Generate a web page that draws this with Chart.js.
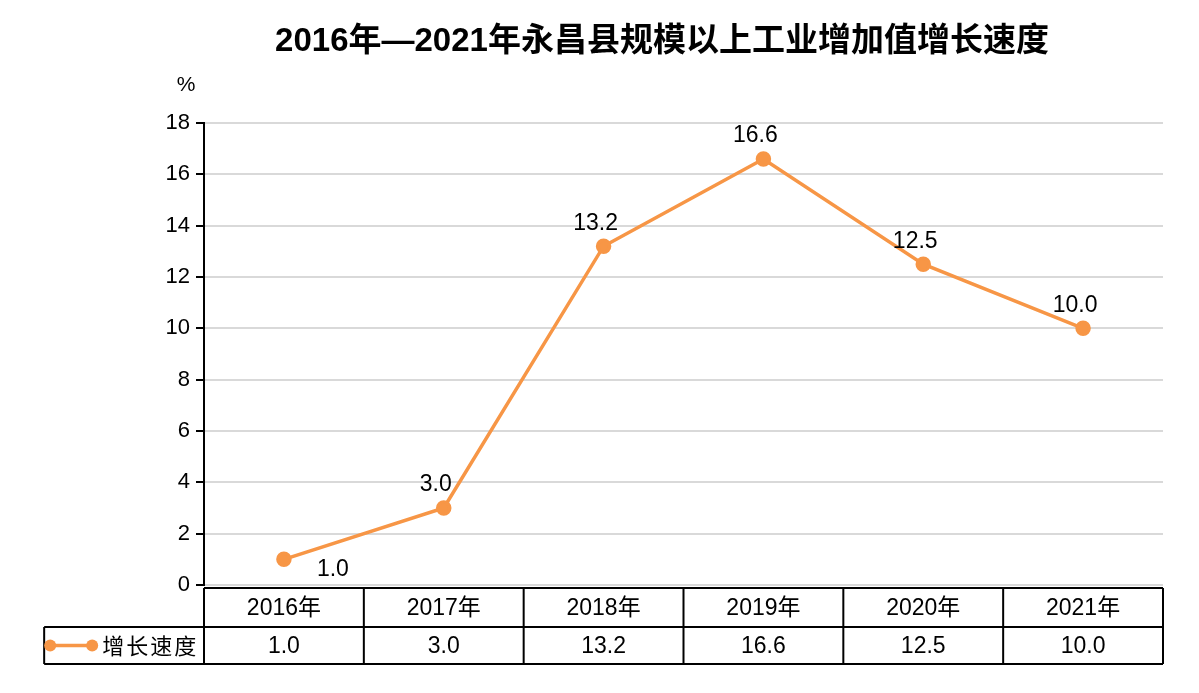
<!DOCTYPE html>
<html>
<head>
<meta charset="utf-8">
<script src="https://cdn.jsdelivr.net/npm/chart.js@4/dist/chart.umd.min.js"></script>
<style>
  html, body { margin: 0; padding: 0; background: #fff; }
  #wrap { width: 1199px; height: 693px; }
</style>
</head>
<body>
<div id="wrap"><canvas id="growth-chart" width="1199" height="693"></canvas></div>
<script>
// data
const years = ['2016年', '2017年', '2018年', '2019年', '2020年', '2021年']
const growthRate = [1.0, 3.0, 13.2, 16.6, 12.5, 10.0]
const seriesName = '增长速度'
const chartTitle = '2016年—2021年永昌县规模以上工业增加值增长速度'
const yTicks = [0, 2, 4, 6, 8, 10, 12, 14, 16, 18]

const orange = '#F79646'
const fontFamily = '"Liberation Sans", Arial, "Noto Sans CJK SC", sans-serif'

// title, unit label, point labels and the data table underneath
const extrasPlugin = {
  id: 'extras',
  afterDatasetsDraw(chart) {
    const ctx = chart.ctx
    const area = chart.chartArea
    const xScale = chart.scales.x
    const meta = chart.getDatasetMeta(0)

    ctx.save()
    ctx.fillStyle = '#000'
    ctx.textAlign = 'center'
    ctx.textBaseline = 'middle'

    // title
    ctx.font = 'bold 33px "Liberation Sans", Arial, "Noto Sans CJK SC", sans-serif'
    ctx.fillText(chartTitle, 662, 42)

    // unit
    ctx.font = '21px ' + fontFamily
    ctx.fillText('%', 186, 85)

    // value labels next to points
    ctx.font = '23px ' + fontFamily
    meta.data.forEach((pt, i) => {
      const txt = growthRate[i].toFixed(1)
      if (i === 0) ctx.fillText(txt, pt.x + 49, pt.y + 10)
      else ctx.fillText(txt, pt.x - 8, pt.y - 23)
    })

    // table
    const colW = xScale.getPixelForValue(1) - xScale.getPixelForValue(0)
    const top = area.bottom + 3
    const mid = top + 39
    const bot = mid + 37
    const left = area.left
    const right = area.right

    ctx.strokeStyle = '#000'
    ctx.lineWidth = 2
    ctx.beginPath()
    ctx.moveTo(left, top); ctx.lineTo(right, top)
    ctx.moveTo(left - colW, mid); ctx.lineTo(right, mid)
    ctx.moveTo(left - colW, bot); ctx.lineTo(right, bot)
    ctx.moveTo(left - colW, mid); ctx.lineTo(left - colW, bot)
    ctx.moveTo(left, top); ctx.lineTo(left, bot)
    years.forEach((y, i) => {
      const xr = xScale.getPixelForValue(i) + colW / 2
      ctx.moveTo(xr, top); ctx.lineTo(xr, bot)
    })
    ctx.stroke()

    ctx.font = '23px ' + fontFamily
    years.forEach((y, i) => {
      const cx = xScale.getPixelForValue(i)
      ctx.fillText(y, cx, (top + mid) / 2 + 1)
      ctx.fillText(growthRate[i].toFixed(1), cx, (mid + bot) / 2 + 1)
    })

    // legend inside the left cell
    const ly = (mid + bot) / 2
    const lx0 = left - colW + 6
    const lx1 = lx0 + 42
    ctx.strokeStyle = orange
    ctx.lineWidth = 3.5
    ctx.beginPath()
    ctx.moveTo(lx0, ly); ctx.lineTo(lx1, ly)
    ctx.stroke()
    ctx.fillStyle = orange
    ;[lx0, lx1].forEach(px => {
      ctx.beginPath()
      ctx.arc(px, ly, 6, 0, Math.PI * 2)
      ctx.fill()
    })
    ctx.fillStyle = '#000'
    ctx.textAlign = 'left'
    ctx.font = '22px "Noto Sans CJK SC", sans-serif'
    ctx.letterSpacing = '2px'
    ctx.fillText(seriesName, lx1 + 10, ly)

    ctx.restore()
  }
}

const ctx = document.getElementById('growth-chart').getContext('2d')

const growthChart = new Chart(ctx, {
  type: 'line',
  data: {
    labels: years,
    datasets: [{
      label: seriesName,
      data: growthRate,
      borderColor: orange,
      backgroundColor: orange,
      borderWidth: 3.5,
      pointRadius: 6,
      pointHoverRadius: 6,
      tension: 0
    }]
  },
  options: {
    responsive: false,
    animation: false,
    layout: {
      padding: { top: 123, right: 36, bottom: 108, left: 0 }
    },
    plugins: {
      legend: { display: false },
      title: { display: false },
      tooltip: { enabled: false }
    },
    scales: {
      x: {
        display: false,
        offset: true
      },
      y: {
        min: 0,
        max: 18,
        afterBuildTicks: axis => {
          axis.ticks = yTicks.map(v => ({ value: v }))
        },
        afterFit: axis => {
          axis.width = 204
        },
        border: { color: '#000', width: 2 },
        grid: {
          color: '#d9d9d9',
          lineWidth: 2,
          tickColor: '#000',
          tickLength: 8,
          drawTicks: true
        },
        ticks: {
          color: '#000',
          padding: 6,
          font: { size: 22, family: fontFamily }
        }
      }
    }
  },
  plugins: [extrasPlugin]
})
</script>
</body>
</html>
